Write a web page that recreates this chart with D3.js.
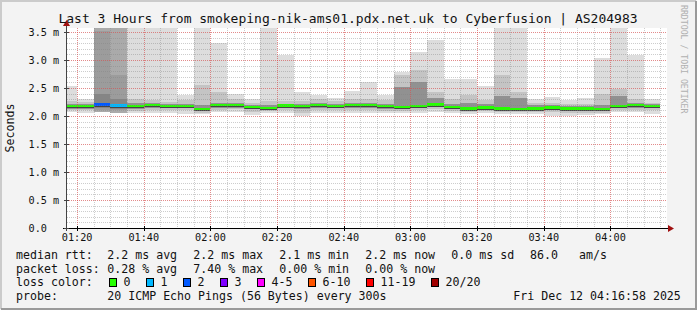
<!DOCTYPE html>
<html>
<head>
<meta charset="utf-8">
<title>SmokePing latency</title>
<script src="https://d3js.org/d3.v7.min.js"></script>
<style>
  body { margin: 0; background: #fff; }
  text { font-family: "DejaVu Sans Mono", monospace; }
</style>
</head>
<body>
<script>
// 5 minute slots, 12 Dec 2025 (start of each slot)
var slots = ["01:15","01:20","01:25","01:30","01:35","01:40","01:45","01:50","01:55",
             "02:00","02:05","02:10","02:15","02:20","02:25","02:30","02:35","02:40",
             "02:45","02:50","02:55","03:00","03:05","03:10","03:15","03:20","03:25",
             "03:30","03:35","03:40","03:45","03:50","03:55","04:00","04:05","04:10"];

// median rtt in ms
var median = [2.17,2.17,2.20,2.18,2.17,2.19,2.17,2.17,2.12,2.19,2.19,2.16,2.14,2.18,2.17,2.19,2.17,2.19,
              2.19,2.17,2.16,2.17,2.20,2.16,2.13,2.15,2.13,2.12,2.13,2.15,2.13,2.13,2.12,2.17,2.19,2.17];
// lost pings (out of 20)
var lost = [0,0,2,1,0,0,0,0,0,0,0,0,0,0,0,0,0,0,0,0,0,0,0,0,0,0,0,0,0,0,0,0,0,0,0,0];

// smoke: outer band (all pings), middle band, inner band
var smokeTop = [2.54,2.30,3.62,3.62,3.62,3.62,3.62,2.38,3.62,3.30,2.39,2.30,3.62,3.09,2.42,2.37,2.32,2.45,
                2.60,2.38,2.79,3.15,3.36,2.66,2.66,2.54,3.62,3.62,2.30,2.34,2.29,2.32,3.04,3.62,3.09,2.30];
var smokeBottom = [2.07,2.06,2.07,2.06,2.05,2.06,2.06,2.04,2.03,2.07,2.07,2.02,2.05,2.06,2.00,2.06,2.05,2.06,
                   2.06,2.05,2.05,2.06,2.08,2.05,2.03,2.05,2.03,2.04,2.03,2.00,2.00,2.01,2.03,2.07,2.07,2.04];
var midTop = [2.27,2.25,3.51,2.73,2.31,2.28,2.25,2.28,2.56,2.42,2.30,2.24,2.26,2.27,2.27,2.30,2.26,2.30,
              2.30,2.28,2.73,2.82,2.42,2.30,2.38,2.28,2.73,2.42,2.24,2.23,2.21,2.22,2.40,2.49,2.30,2.24];
var midBottom = [2.10,2.10,2.11,2.10,2.09,2.11,2.10,2.10,2.06,2.11,2.12,2.07,2.09,2.10,2.06,2.11,2.10,2.11,
                 2.11,2.09,2.09,2.10,2.12,2.09,2.07,2.09,2.07,2.07,2.07,2.07,2.05,2.05,2.06,2.11,2.11,2.10];
var innerTop = [2.22,2.21,2.39,2.30,2.23,2.24,2.21,2.22,2.20,2.24,2.23,2.20,2.20,2.22,2.21,2.23,2.21,2.23,
                2.23,2.21,2.52,2.60,2.33,2.22,2.24,2.21,2.36,2.33,2.19,2.19,2.17,2.17,2.20,2.36,2.24,2.21];
var innerBottom = [2.13,2.13,2.15,2.13,2.13,2.15,2.14,2.14,2.09,2.15,2.15,2.12,2.11,2.14,2.12,2.15,2.14,2.15,
                   2.15,2.13,2.12,2.14,2.16,2.12,2.10,2.12,2.10,2.09,2.10,2.12,2.10,2.10,2.09,2.14,2.15,2.14];

// axis
var yTicks = [0, 0.5, 1.0, 1.5, 2.0, 2.5, 3.0, 3.5];
var yTickLabels = ["0.0", "0.5 m", "1.0 m", "1.5 m", "2.0 m", "2.5 m", "3.0 m", "3.5 m"];
var xTickLabels = ["01:20","01:40","02:00","02:20","02:40","03:00","03:20","03:40","04:00"];

// legend
var rttStats = ["2.2 ms avg", "2.2 ms max", "2.1 ms min", "2.2 ms now", "0.0 ms sd"];
var lossStats = ["0.28 % avg", "7.40 % max", "0.00 % min", "0.00 % now"];
var lossNames = ["0", "1", "2", "3", "4-5", "6-10", "11-19", "20/20"];
var lossColors = ["#26ff00", "#00b8ff", "#0059ff", "#7e00ff", "#ff00ff", "#ff5500", "#ff0000", "#a10000"];

var width = 697, height = 310;
var pL = 67, pR = 667, pT = 28, pB = 228;

var parse = d3.timeParse("%Y-%m-%d %H:%M:%S");
var day = "2025-12-12 ";
var start = parse(day + "01:16:58"), end = parse(day + "04:16:58");

var x = d3.scaleTime().domain([start, end]).range([pL, pR]);
var y = d3.scaleLinear().domain([0, 200 / 56]).range([pB, pT]);

var svg = d3.select("body").append("svg")
  .attr("width", width).attr("height", height);

// background and frame
svg.append("rect").attr("width", width).attr("height", height).attr("fill", "#f3f3f3");
svg.append("path").attr("d", "M1,309V1H696").attr("fill", "none").attr("stroke", "#cbcbcb").attr("stroke-width", 2);
svg.append("path").attr("d", "M1,309H696V1").attr("fill", "none").attr("stroke", "#9a9a9a").attr("stroke-width", 2);
svg.append("rect").attr("x", pL).attr("y", pT).attr("width", pR - pL).attr("height", pB - pT).attr("fill", "#fff");

svg.append("clipPath").attr("id", "plot")
  .append("rect").attr("x", pL).attr("y", pT).attr("width", pR - pL).attr("height", pB - pT);

// bars
var bars = slots.map(function(s, i) {
  var t0 = parse(day + s + ":00");
  return { i: i, t0: t0, t1: d3.timeMinute.offset(t0, 5) };
});

var normalGreys = ["#dddddd", "#c4c4c4", "#919191"];
var lossyGreys = ["#aaaaaa", "#9c9c9c", "#858585"];
var bands = [[smokeBottom, smokeTop], [midBottom, midTop], [innerBottom, innerTop]];

var g = svg.append("g").attr("clip-path", "url(#plot)").attr("shape-rendering", "crispEdges");
bands.forEach(function(b, k) {
  g.selectAll(null).data(bars).enter().append("rect")
    .attr("x", function(d) { return x(d.t0); })
    .attr("width", function(d) { return x(d.t1) - x(d.t0); })
    .attr("y", function(d) { return y(b[1][d.i]); })
    .attr("height", function(d) { return y(b[0][d.i]) - y(b[1][d.i]); })
    .attr("fill", function(d) { return lost[d.i] > 0 ? lossyGreys[k] : normalGreys[k]; });
});

function lossColor(n) {
  if (n <= 3) return lossColors[n];
  if (n <= 5) return lossColors[4];
  if (n <= 10) return lossColors[5];
  if (n <= 19) return lossColors[6];
  return lossColors[7];
}

// dark core just around the median, then the median itself
g.selectAll(null).data(bars).enter().append("rect")
  .attr("x", function(d) { return x(d.t0); })
  .attr("width", function(d) { return x(d.t1) - x(d.t0); })
  .attr("y", function(d) { return y(median[d.i]) - 1; })
  .attr("height", 3)
  .attr("fill", "#444");
g.selectAll(null).data(bars).enter().append("rect")
  .attr("x", function(d) { return x(d.t0); })
  .attr("width", function(d) { return x(d.t1) - x(d.t0); })
  .attr("y", function(d) { return y(median[d.i]) - 1.5; })
  .attr("height", 2.5)
  .attr("fill", function(d) { return lossColor(lost[d.i]); });

// grid (drawn over the smoke like rrdtool)
var grid = svg.append("g").attr("shape-rendering", "crispEdges");
var minorX = d3.timeMinute.every(5).range(start, end);
var majorX = xTickLabels.map(function(s) { return parse(day + s + ":00"); });
var minorY = d3.range(1, 36).map(function(k) { return k / 10; });

grid.selectAll(null).data(minorX).enter().append("line")
  .attr("x1", function(d) { return Math.round(x(d)) + 0.5; })
  .attr("x2", function(d) { return Math.round(x(d)) + 0.5; })
  .attr("y1", pT).attr("y2", pB)
  .attr("stroke", "rgba(130,130,130,0.4)").attr("stroke-dasharray", "1,1");
grid.selectAll(null).data(minorY).enter().append("line")
  .attr("x1", pL).attr("x2", pR)
  .attr("y1", function(d) { return Math.round(y(d)) + 0.5; })
  .attr("y2", function(d) { return Math.round(y(d)) + 0.5; })
  .attr("stroke", "rgba(130,130,130,0.4)").attr("stroke-dasharray", "1,1");
grid.selectAll(null).data(majorX).enter().append("line")
  .attr("x1", function(d) { return Math.round(x(d)) + 0.5; })
  .attr("x2", function(d) { return Math.round(x(d)) + 0.5; })
  .attr("y1", pT).attr("y2", pB)
  .attr("stroke", "rgba(255,60,60,0.45)").attr("stroke-dasharray", "1,1");
grid.selectAll(null).data(yTicks.slice(1)).enter().append("line")
  .attr("x1", pL).attr("x2", pR)
  .attr("y1", function(d) { return Math.round(y(d)) + 0.5; })
  .attr("y2", function(d) { return Math.round(y(d)) + 0.5; })
  .attr("stroke", "rgba(255,60,60,0.45)").attr("stroke-dasharray", "1,1");

// axes
var ax = svg.append("g").attr("shape-rendering", "crispEdges");
ax.append("line").attr("x1", pL - 4).attr("x2", pR + 2).attr("y1", pB + 0.5).attr("y2", pB + 0.5).attr("stroke", "#000");
ax.append("line").attr("x1", pL - 0.5).attr("x2", pL - 0.5).attr("y1", pB + 3).attr("y2", pT - 2).attr("stroke", "#444");
ax.selectAll(null).data(majorX).enter().append("line")
  .attr("x1", function(d) { return Math.round(x(d)) + 0.5; })
  .attr("x2", function(d) { return Math.round(x(d)) + 0.5; })
  .attr("y1", pB - 2).attr("y2", pB + 3).attr("stroke", "#000");
ax.selectAll(null).data(yTicks).enter().append("line")
  .attr("x1", pL - 3).attr("x2", pL + 2)
  .attr("y1", function(d) { return Math.round(y(d)) + 0.5; })
  .attr("y2", function(d) { return Math.round(y(d)) + 0.5; })
  .attr("stroke", "#444");
svg.append("path").attr("d", "M" + (pR + 1) + "," + (pB - 3) + "L" + (pR + 7) + "," + (pB + 0.5) + "L" + (pR + 1) + "," + (pB + 4) + "Z").attr("fill", "#a01010");
svg.append("path").attr("d", "M" + (pL - 4) + "," + (pT - 2) + "L" + (pL - 0.5) + "," + (pT - 8) + "L" + (pL + 3) + "," + (pT - 2) + "Z").attr("fill", "#a01010");

var fs = "11.6px", axisFs = "10.2px";
svg.selectAll(null).data(yTicks).enter().append("text")
  .attr("x", 28.5).attr("y", function(d) { return y(d); }).attr("dy", "0.35em")
  .attr("font-size", axisFs).attr("fill", "#111")
  .text(function(d, i) { return yTickLabels[i]; });
svg.selectAll(null).data(majorX).enter().append("text")
  .attr("x", function(d) { return x(d); }).attr("y", 241)
  .attr("text-anchor", "middle").attr("font-size", axisFs).attr("fill", "#111")
  .text(function(d, i) { return xTickLabels[i]; });

// titles
svg.append("text").attr("x", 348).attr("y", 22.5).attr("text-anchor", "middle")
  .attr("font-size", "13px").attr("fill", "#111")
  .text("Last 3 Hours from smokeping-nik-ams01.pdx.net.uk to Cyberfusion | AS204983");
svg.append("text").attr("transform", "translate(14," + ((pT + pB) / 2) + ") rotate(-90)")
  .attr("text-anchor", "middle").attr("font-size", fs).attr("fill", "#111").text("Seconds");
svg.append("text").attr("transform", "translate(681,5) rotate(90)")
  .attr("font-size", "8.2px").attr("fill", "#b0b0b0").text("RRDTOOL / TOBI OETIKER");

// legend
var legend = svg.append("g").attr("font-size", fs).attr("fill", "#111").style("white-space", "pre");
var rows = [259, 272.7, 286.3, 300];
legend.append("text").attr("x", 16).attr("y", rows[0]).text("median rtt:");
legend.append("text").attr("x", 16).attr("y", rows[1]).text("packet loss:");
legend.append("text").attr("x", 16).attr("y", rows[2]).text("loss color:");
legend.append("text").attr("x", 16).attr("y", rows[3]).text("probe:");
rttStats.forEach(function(s, i) {
  legend.append("text").attr("x", 107.3 + i * 86).attr("y", rows[0]).text(s);
});
legend.append("text").attr("x", 530).attr("y", rows[0]).text("86.0");
legend.append("text").attr("x", 579).attr("y", rows[0]).text("am/s");
lossStats.forEach(function(s, i) {
  legend.append("text").attr("x", 107.3 + i * 86).attr("y", rows[1]).text(s);
});
var bx = 108.5;
lossNames.forEach(function(s, i) {
  legend.append("rect").attr("x", Math.round(bx) + 0.5).attr("y", 278.5).attr("width", 7).attr("height", 8)
    .attr("fill", lossColors[i]).attr("stroke", "#000");
  legend.append("text").attr("x", bx + 15).attr("y", rows[2]).text(s);
  bx += 30 + 7 * s.length;
});
legend.append("text").attr("x", 107.3).attr("y", rows[3]).text("20 ICMP Echo Pings (56 Bytes) every 300s");
legend.append("text").attr("x", 513.3).attr("y", rows[3]).text("Fri Dec 12 04:16:58 2025");
</script>
</body>
</html>
